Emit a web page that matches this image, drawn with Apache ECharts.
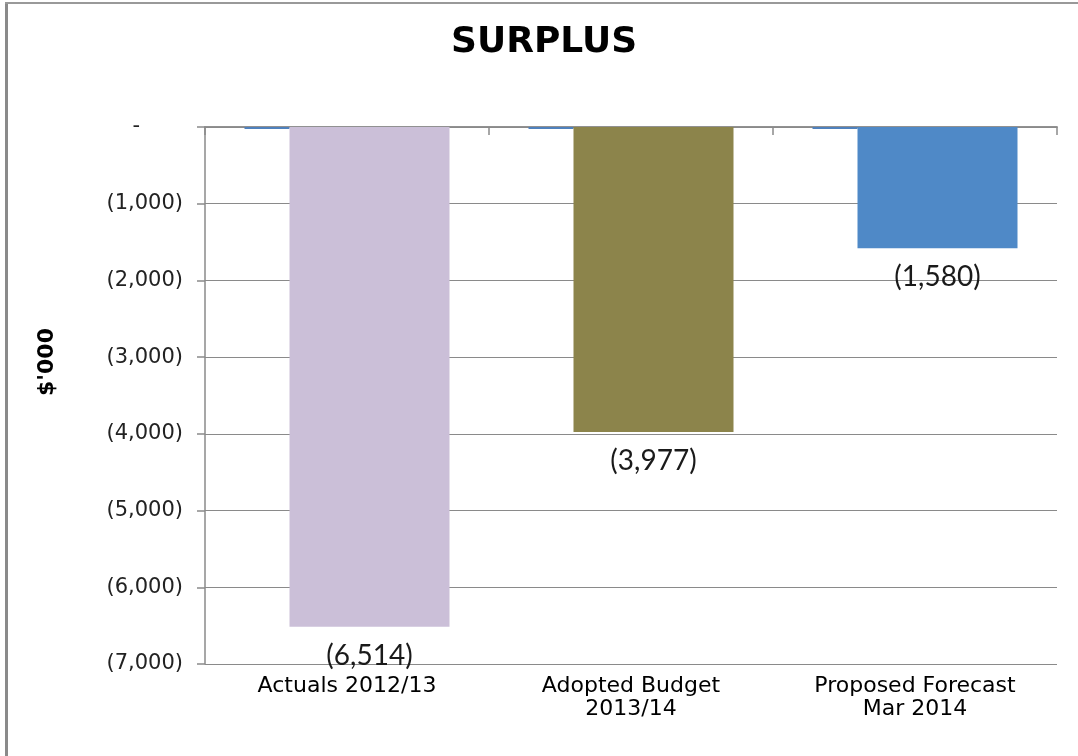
<!DOCTYPE html>
<html>
<head>
<meta charset="utf-8">
<script src="https://cdn.jsdelivr.net/npm/echarts@6/dist/echarts.min.js"></script>
<style>
  html, body { margin: 0; padding: 0; background: #fff; }
  #chart { width: 1078px; height: 756px; }
</style>
</head>
<body>
<div id="chart"></div>
<script>
// categories and values ($'000)
const categories = ["Actuals 2012/13", "Adopted Budget\n2013/14", "Proposed Forecast\nMar 2014"];
const baseline = [-25, -25, -25];          // the thin blue marks at zero
const surplus = [-6514, -3977, -1580];
const barColors = ["#CBBFD8", "#8C844B", "#4F89C7"];
const yTicks = [0, -1000, -2000, -3000, -4000, -5000, -6000, -7000];

function fmtAcct(v) {
  if (v === 0) return "{d|-}";
  return "(" + Math.abs(v).toLocaleString("en-US") + ")";
}

const chart = echarts.init(document.getElementById("chart"));
chart.setOption({
  animation: false,
  backgroundColor: "#fff",
  title: {
    text: "SURPLUS",
    left: 446,
    top: 20,
    textStyle: { fontFamily: "DejaVu Sans", fontWeight: "bold", fontSize: 36, color: "#000" }
  },
  graphic: [
    { type: "line", shape: { x1: 6.5, y1: 2, x2: 6.5, y2: 756 }, style: { stroke: "#8a8a8a", lineWidth: 3 } },
    { type: "line", shape: { x1: 5, y1: 3, x2: 1078, y2: 3 }, style: { stroke: "#999", lineWidth: 2 } },
    {
      type: "text", x: 47, y: 362, rotation: Math.PI / 2,
      style: { text: "$'000", fontFamily: "DejaVu Sans", fontWeight: "bold", fontSize: 22, fill: "#000", align: "center", verticalAlign: "middle" }
    }
  ],
  grid: { left: 205, right: 21, top: 127, bottom: 92, containLabel: false },
  xAxis: [
    {
      type: "category",
      data: categories,
      position: "bottom",
      axisLine: { show: true, lineStyle: { color: "#8a8a8a", width: 1.5 } },
      axisTick: { show: false },
      axisLabel: { fontFamily: "DejaVu Sans", fontSize: 22, color: "#000", margin: 11, lineHeight: 23 }
    },
    {
      type: "category",
      data: categories,
      position: "top",
      axisLine: { show: true, lineStyle: { color: "#8a8a8a", width: 1.5 } },
      axisTick: { show: true, inside: true, length: 8, lineStyle: { color: "#8a8a8a", width: 1.5 } },
      axisLabel: { show: false }
    }
  ],
  yAxis: {
    type: "value",
    min: yTicks[yTicks.length - 1],
    max: yTicks[0],
    interval: 1000,
    axisLine: { show: true, lineStyle: { color: "#8a8a8a", width: 1.5 } },
    axisTick: { show: true, length: 8, lineStyle: { color: "#8a8a8a", width: 1.5 } },
    splitLine: { show: true, lineStyle: { color: "#8a8a8a", width: 1.2 } },
    axisLabel: {
      formatter: fmtAcct,
      margin: 22,
      fontFamily: "DejaVu Sans",
      fontSize: 21,
      color: "#222",
      rich: { d: { fontFamily: "DejaVu Sans", fontSize: 21, color: "#222", padding: [0, 43, 0, 0] } }
    }
  },
  series: [
    {
      type: "bar",
      data: baseline,
      barWidth: 45,
      barGap: "0%",
      itemStyle: { color: "#4F81BD" },
      label: { show: false }
    },
    {
      type: "bar",
      data: surplus.map((v, i) => ({ value: v, itemStyle: { color: barColors[i] } })),
      barWidth: 160,
      barGap: "0%",
      label: {
        show: true,
        position: "bottom",
        distance: 15,
        fontFamily: "Lato",
        fontSize: 28,
        color: "#1a1a1a",
        formatter: p => fmtAcct(p.value)
      }
    }
  ]
});
</script>
</body>
</html>
